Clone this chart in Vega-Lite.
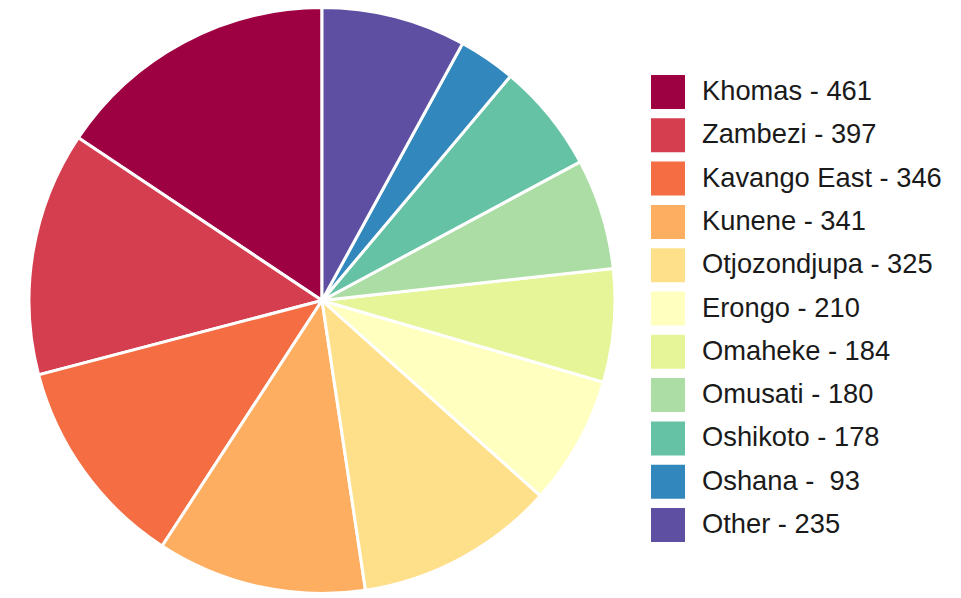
{
  "$schema": "https://vega.github.io/schema/vega-lite/v6.json",
  "width": 644,
  "height": 601,
  "autosize": "none",
  "padding": {"left": 0, "top": 0, "right": 317, "bottom": 0},
  "background": "white",
  "data": {
    "values": [
      {"idx": 1, "region": "Khomas", "value": 461, "label": "Khomas - 461"},
      {"idx": 2, "region": "Zambezi", "value": 397, "label": "Zambezi - 397"},
      {"idx": 3, "region": "Kavango East", "value": 346, "label": "Kavango East - 346"},
      {"idx": 4, "region": "Kunene", "value": 341, "label": "Kunene - 341"},
      {"idx": 5, "region": "Otjozondjupa", "value": 325, "label": "Otjozondjupa - 325"},
      {"idx": 6, "region": "Erongo", "value": 210, "label": "Erongo - 210"},
      {"idx": 7, "region": "Omaheke", "value": 184, "label": "Omaheke - 184"},
      {"idx": 8, "region": "Omusati", "value": 180, "label": "Omusati - 180"},
      {"idx": 9, "region": "Oshikoto", "value": 178, "label": "Oshikoto - 178"},
      {"idx": 10, "region": "Oshana", "value": 93, "label": "Oshana -\u00a0 93"},
      {"idx": 11, "region": "Other", "value": 235, "label": "Other - 235"}
    ]
  },
  "mark": {"type": "arc", "radius": 293, "stroke": "white", "strokeWidth": 3},
  "encoding": {
    "theta": {"field": "value", "type": "quantitative", "stack": true},
    "order": {"field": "idx", "type": "quantitative", "sort": "descending"},
    "color": {
      "field": "label",
      "type": "nominal",
      "sort": {"field": "idx", "order": "ascending"},
      "scale": {
        "domain": ["Khomas - 461", "Zambezi - 397", "Kavango East - 346", "Kunene - 341", "Otjozondjupa - 325", "Erongo - 210", "Omaheke - 184", "Omusati - 180", "Oshikoto - 178", "Oshana -\u00a0 93", "Other - 235"],
        "range": ["#9e0142", "#d53e4f", "#f46d43", "#fdae61", "#fee08b", "#ffffbf", "#e6f598", "#abdda4", "#66c2a5", "#3288bd", "#5e4fa2"]
      },
      "legend": {
        "title": null,
        "orient": "none",
        "legendX": 651,
        "legendY": 75,
        "padding": 0,
        "symbolType": "square",
        "symbolSize": 1156,
        "symbolStrokeWidth": 0,
        "symbolOpacity": 1,
        "labelFont": "Liberation Sans",
        "labelFontSize": 27.3,
        "labelColor": "#1a1a1a",
        "labelOffset": 17,
        "rowPadding": 9.3,
        "labelLimit": 400
      }
    }
  },
  "config": {"view": {"stroke": null}}
}
